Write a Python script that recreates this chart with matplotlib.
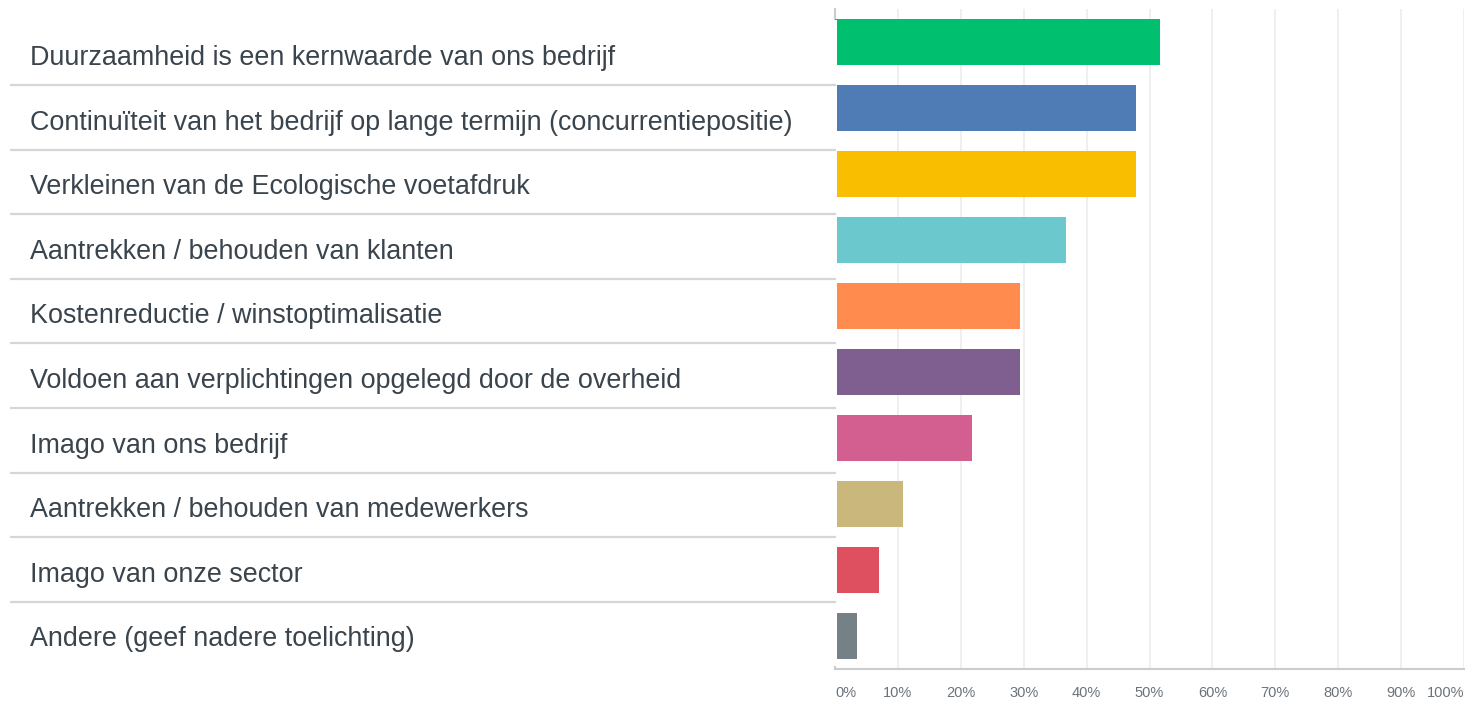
import matplotlib
matplotlib.use("Agg")
import matplotlib.pyplot as plt
import numpy as np

plt.rcParams['font.family'] = ['Liberation Sans', 'DejaVu Sans']

# Answer choices, top to bottom
labels = [
    "Duurzaamheid is een kernwaarde van ons bedrijf",
    "Continuïteit van het bedrijf op lange termijn (concurrentiepositie)",
    "Verkleinen van de Ecologische voetafdruk",
    "Aantrekken / behouden van klanten",
    "Kostenreductie / winstoptimalisatie",
    "Voldoen aan verplichtingen opgelegd door de overheid",
    "Imago van ons bedrijf",
    "Aantrekken / behouden van medewerkers",
    "Imago van onze sector",
    "Andere (geef nadere toelichting)",
]
# share of respondents (%)
values = [51.7, 47.9, 47.9, 36.7, 29.4, 29.4, 21.8, 10.8, 7.0, 3.5]
colors = ["#00BF6F", "#507CB6", "#F9BE00", "#6BC8CD", "#FF8B4F",
          "#7F5F90", "#D25F90", "#C9B77B", "#DE4F5F", "#768087"]
ticks = [0, 10, 20, 30, 40, 50, 60, 70, 80, 90, 100]
tick_labels = [f"{t}%" for t in ticks]

W, H = 1468, 701
fig = plt.figure(figsize=(W / 100, H / 100), dpi=100)

# bar area
ax = fig.add_axes([835 / W, 1 - 669 / H, (1464 - 835) / W, (669 - 9) / H])
y = np.arange(len(values))
ax.barh(y, values, height=0.71, color=colors, zorder=3)
ax.set_xlim(0, 100)
ax.set_ylim(len(values) - 0.5, -0.5)
ax.set_xticks(ticks)
ax.set_xticklabels([])
ax.set_yticks([])
ax.tick_params(axis='x', length=0)
ax.grid(axis='x', color='#ececec', linewidth=1.2, zorder=0)
for s in ['top', 'right']:
    ax.spines[s].set_visible(False)
ax.spines['left'].set_color('#cccccc')
ax.spines['left'].set_linewidth(1.5)
ax.spines['bottom'].set_color('#cccccc')
ax.spines['bottom'].set_linewidth(1.5)

# tick labels: first left-aligned, last right-aligned, rest centred
for i, (t, tl) in enumerate(zip(ticks, tick_labels)):
    ha = 'left' if i == 0 else ('right' if i == len(ticks) - 1 else 'center')
    ax.text(t, -(693 - 669) / (669 - 9), tl, transform=ax.get_xaxis_transform(),
            ha=ha, va='center', fontsize=10.5, color='#6b737a')

# label panel on the left (white box covering the axis line)
lab = fig.add_axes([10 / W, 1 - 666.4 / H, (836.5 - 10) / W, (666.4 - 20.4) / H])
lab.set_facecolor('white')
lab.set_xlim(0, 1)
lab.set_ylim(len(labels), 0)
lab.set_xticks([])
lab.set_yticks([])
for s in lab.spines.values():
    s.set_visible(False)
for i, txt in enumerate(labels):
    lab.text(20 / 826.5, i + 0.5 + 0.19, txt, ha='left', va='baseline',
             fontsize=19.4, color='#3a444d')
for i in range(1, len(labels)):
    lab.plot([0, 825 / 826.5], [i, i], color='#d4d6d8', linewidth=1.6)

fig.savefig("out.png", dpi=100)
